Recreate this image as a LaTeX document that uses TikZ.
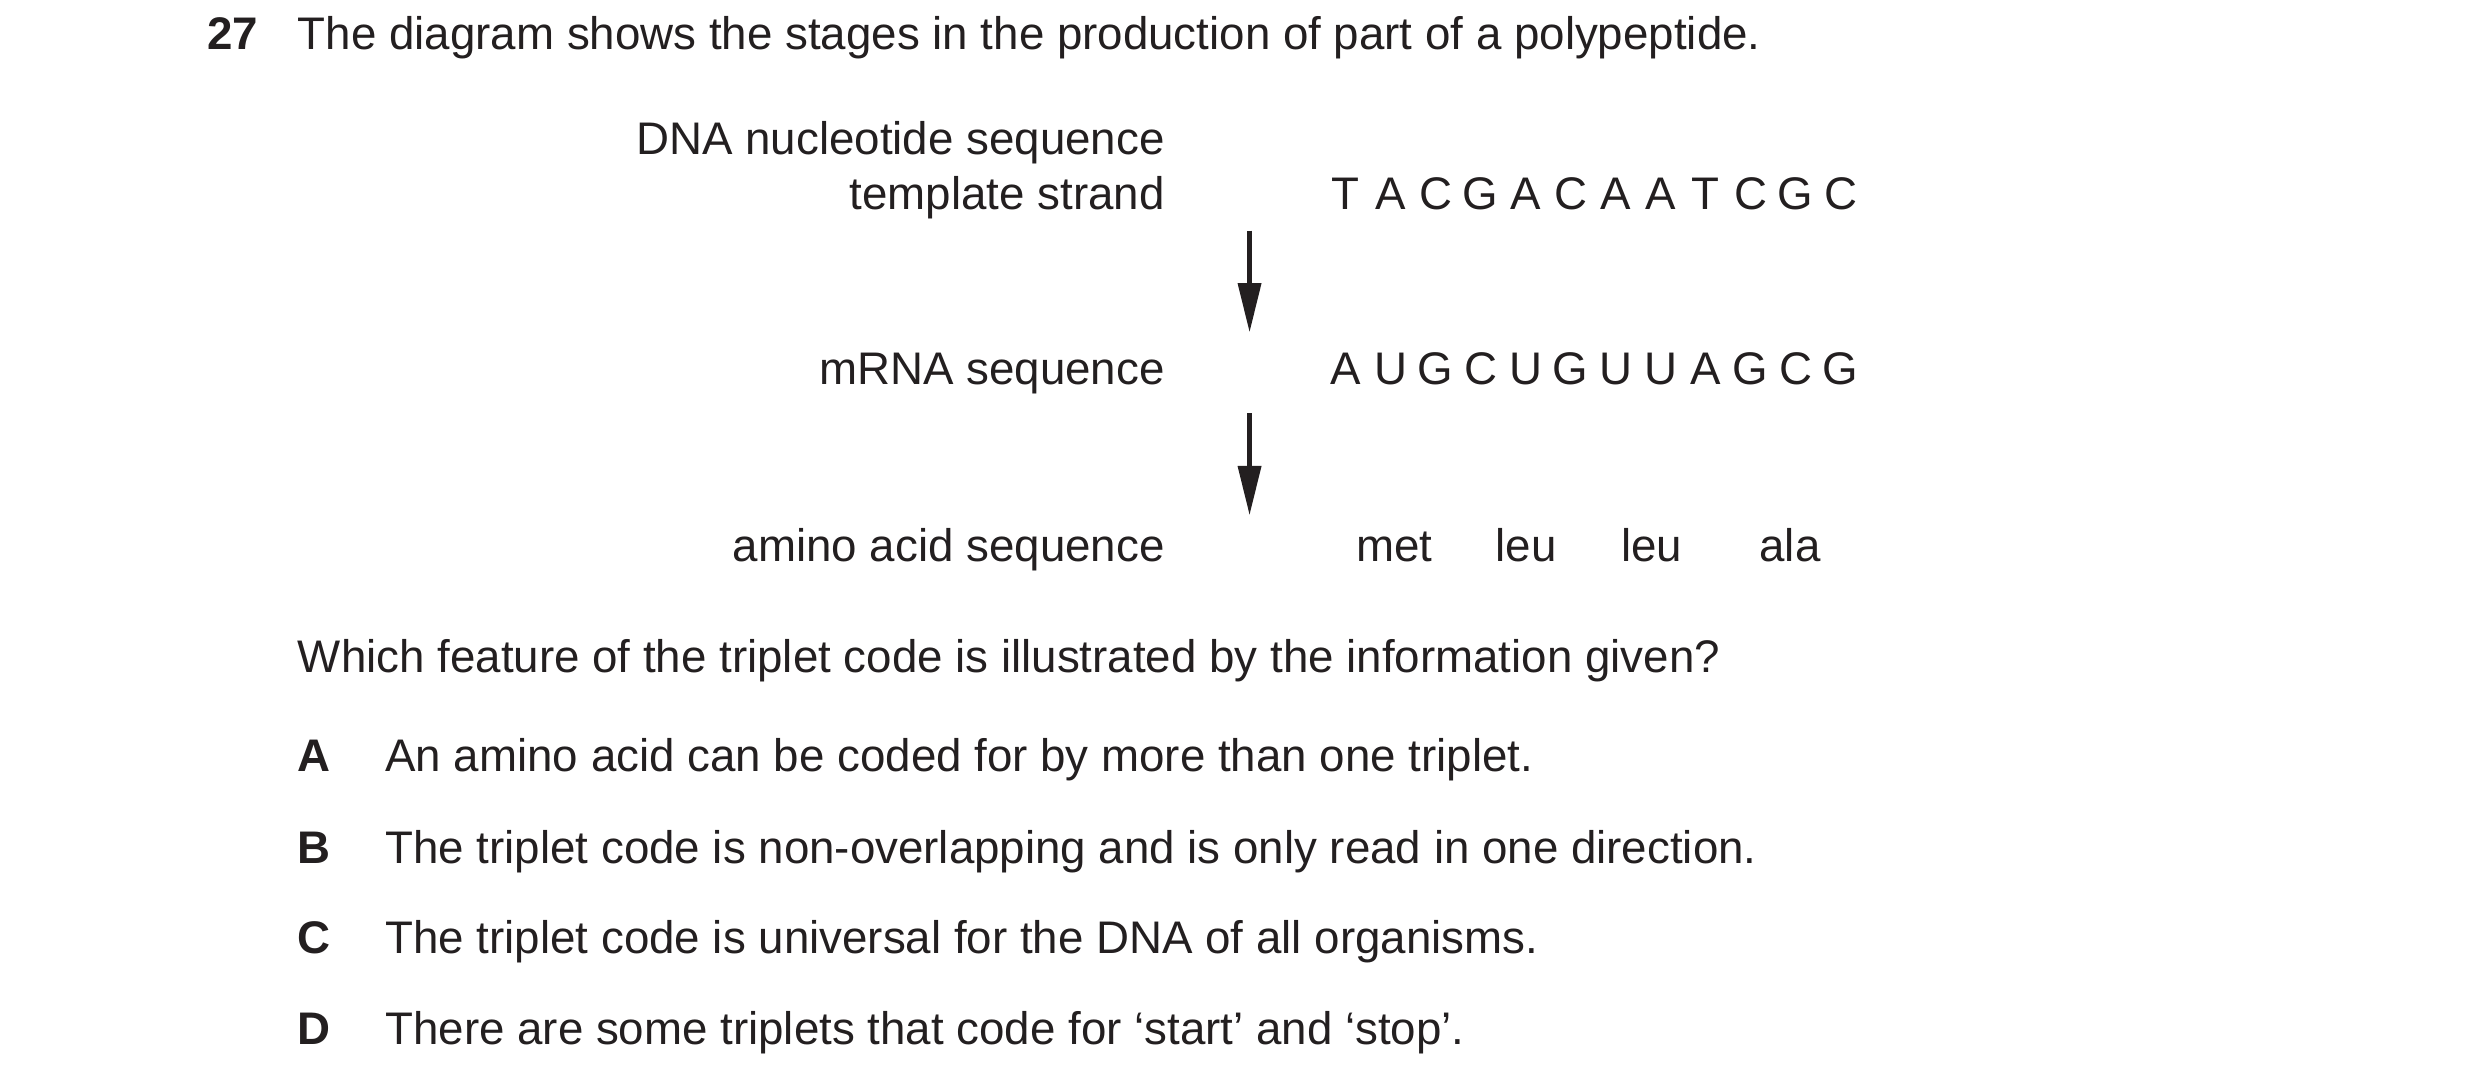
\documentclass[tikz,border=0pt]{standalone}
\usepackage{fontspec}
\setmainfont{Liberation Sans}
\usetikzlibrary{arrows.meta}
\definecolor{ink}{HTML}{231F20}
\begin{document}
\begin{tikzpicture}[x=0.015897cm,y=-0.015897cm,
  t/.style={inner sep=0pt,text=ink,font=\fontsize{13pt}{15pt}\selectfont},
  tl/.style={t,anchor=base west},
  tr/.style={t,anchor=base east},
  tc/.style={t,anchor=base},
  arr/.style={ink,line width=1.2pt,-{Triangle[length=14pt,width=6.5pt]}}]
\useasboundingbox (0,0) rectangle (1560,684.4);
\node[tl,font=\fontsize{13pt}{15pt}\selectfont\bfseries] (q) at (130,31) {27};
\node[tl] (title) at (187,31) {The diagram shows the stages in the production of part of a polypeptide.};
\node[tr] (l1) at (733,97) {DNA nucleotide sequence};
\node[tr] (l2) at (733,132) {template strand};
\node[tr] (l3) at (733,242) {mRNA sequence};
\node[tr] (l4) at (733,353) {amino acid sequence};
\foreach \c [count=\i] in {T,A,C,G,A,C,A,A,T,C,G,C}
  \node[tc] (d\i) at ({846.5+(\i-1)*28.3},132) {\c};
\foreach \c [count=\i] in {A,U,G,C,U,G,U,U,A,G,C,G}
  \node[tc] (m\i) at ({846.5+(\i-1)*28.3},242) {\c};
\node[tc] (a1) at (877,353) {met};
\node[tc] (a2) at (960,353) {leu};
\node[tc] (a3) at (1039,353) {leu};
\node[tc] (a4) at (1126,353) {ala};
\coordinate (s1) at (786,145); \coordinate (e1) at (786,209);
\coordinate (s2) at (786,260); \coordinate (e2) at (786,324);
\draw[arr] (s1) -- (e1);
\draw[arr] (s2) -- (e2);
\node[tl] (qq) at (187,423) {Which feature of the triplet code is illustrated by the information given?};
\foreach \L/\T/\y [count=\i] in {A/An amino acid can be coded for by more than one triplet./485,
  B/The triplet code is non-overlapping and is only read in one direction./543,
  C/The triplet code is universal for the DNA of all organisms./600,
  D/There are some triplets that code for ‘start’ and ‘stop’./657}{
  \node[tl,font=\fontsize{13pt}{15pt}\selectfont\bfseries] (L\i) at (187,\y) {\L};
  \node[tl] (o\i) at (242,\y) {\T};
}
\end{tikzpicture}
\end{document}
